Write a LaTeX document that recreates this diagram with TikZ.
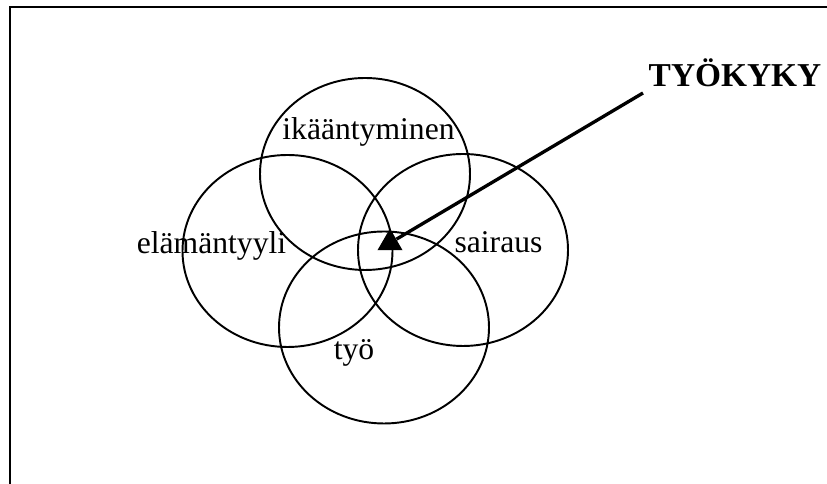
\documentclass[tikz,border=0pt]{standalone}
\usepackage{fontspec}
\setmainfont{Liberation Serif}
\usepackage{tikz}
\usetikzlibrary{calc, shapes.geometric, positioning}

\begin{document}
\begin{tikzpicture}[
    ring/.style={line width=1.1pt},
    word/.style={anchor=base, inner sep=0pt, font=\fontsize{18}{21}\selectfont},
    pointer/.style={line width=1.9pt}
]

    % =================================================================
    % 1. FRAME AND MAIN POINTS
    % =================================================================
    \useasboundingbox (0,0) rectangle (16.54,9.68);

    \coordinate (FrameBottom) at (0.2,0);
    \coordinate (FrameCorner) at (0.2,9.54);
    \coordinate (FrameRight) at (16.54,9.54);

    % Centres of the four ellipses
    \coordinate (Aging) at (7.30,6.20);
    \coordinate (Life) at (5.75,4.66);
    \coordinate (Illness) at (9.26,4.68);
    \coordinate (Work) at (7.68,3.13);

    % Free end of the pointer line, under the title
    \coordinate (PointerStart) at (12.86,7.82);

    % =================================================================
    % 2. FRAME AND ELLIPSES
    % =================================================================
    \draw[line width=1.5pt] (FrameBottom) -- (FrameCorner) -- (FrameRight);

    \draw[ring] (Aging) ellipse (2.1 and 1.92);
    \draw[ring] (Life) ellipse (2.1 and 1.92);
    \draw[ring] (Illness) ellipse (2.1 and 1.92);
    \draw[ring] (Work) ellipse (2.1 and 1.92);

    % =================================================================
    % 3. TRIANGLE AND POINTER LINE
    % =================================================================
    \node[regular polygon, regular polygon sides=3, fill=black,
          inner sep=0pt, minimum size=0.58cm] (Tip) at (7.80,4.82) {};
    \draw[pointer] (PointerStart) -- (Tip);

    % =================================================================
    % 4. LABELS
    % =================================================================
    \node[word] (AgingLabel) at (7.37,6.88) {ikääntyminen};
    \node[word] (LifeLabel) at (4.23,4.60) {elämäntyyli};
    \node[word] (IllnessLabel) at (9.97,4.62) {sairaus};
    \node[word] (WorkLabel) at (7.08,2.48) {työ};
    \node[word, font=\fontsize{19}{22}\selectfont\bfseries] (Title) at (14.70,7.94) {TYÖKYKY};

\end{tikzpicture}
\end{document}
